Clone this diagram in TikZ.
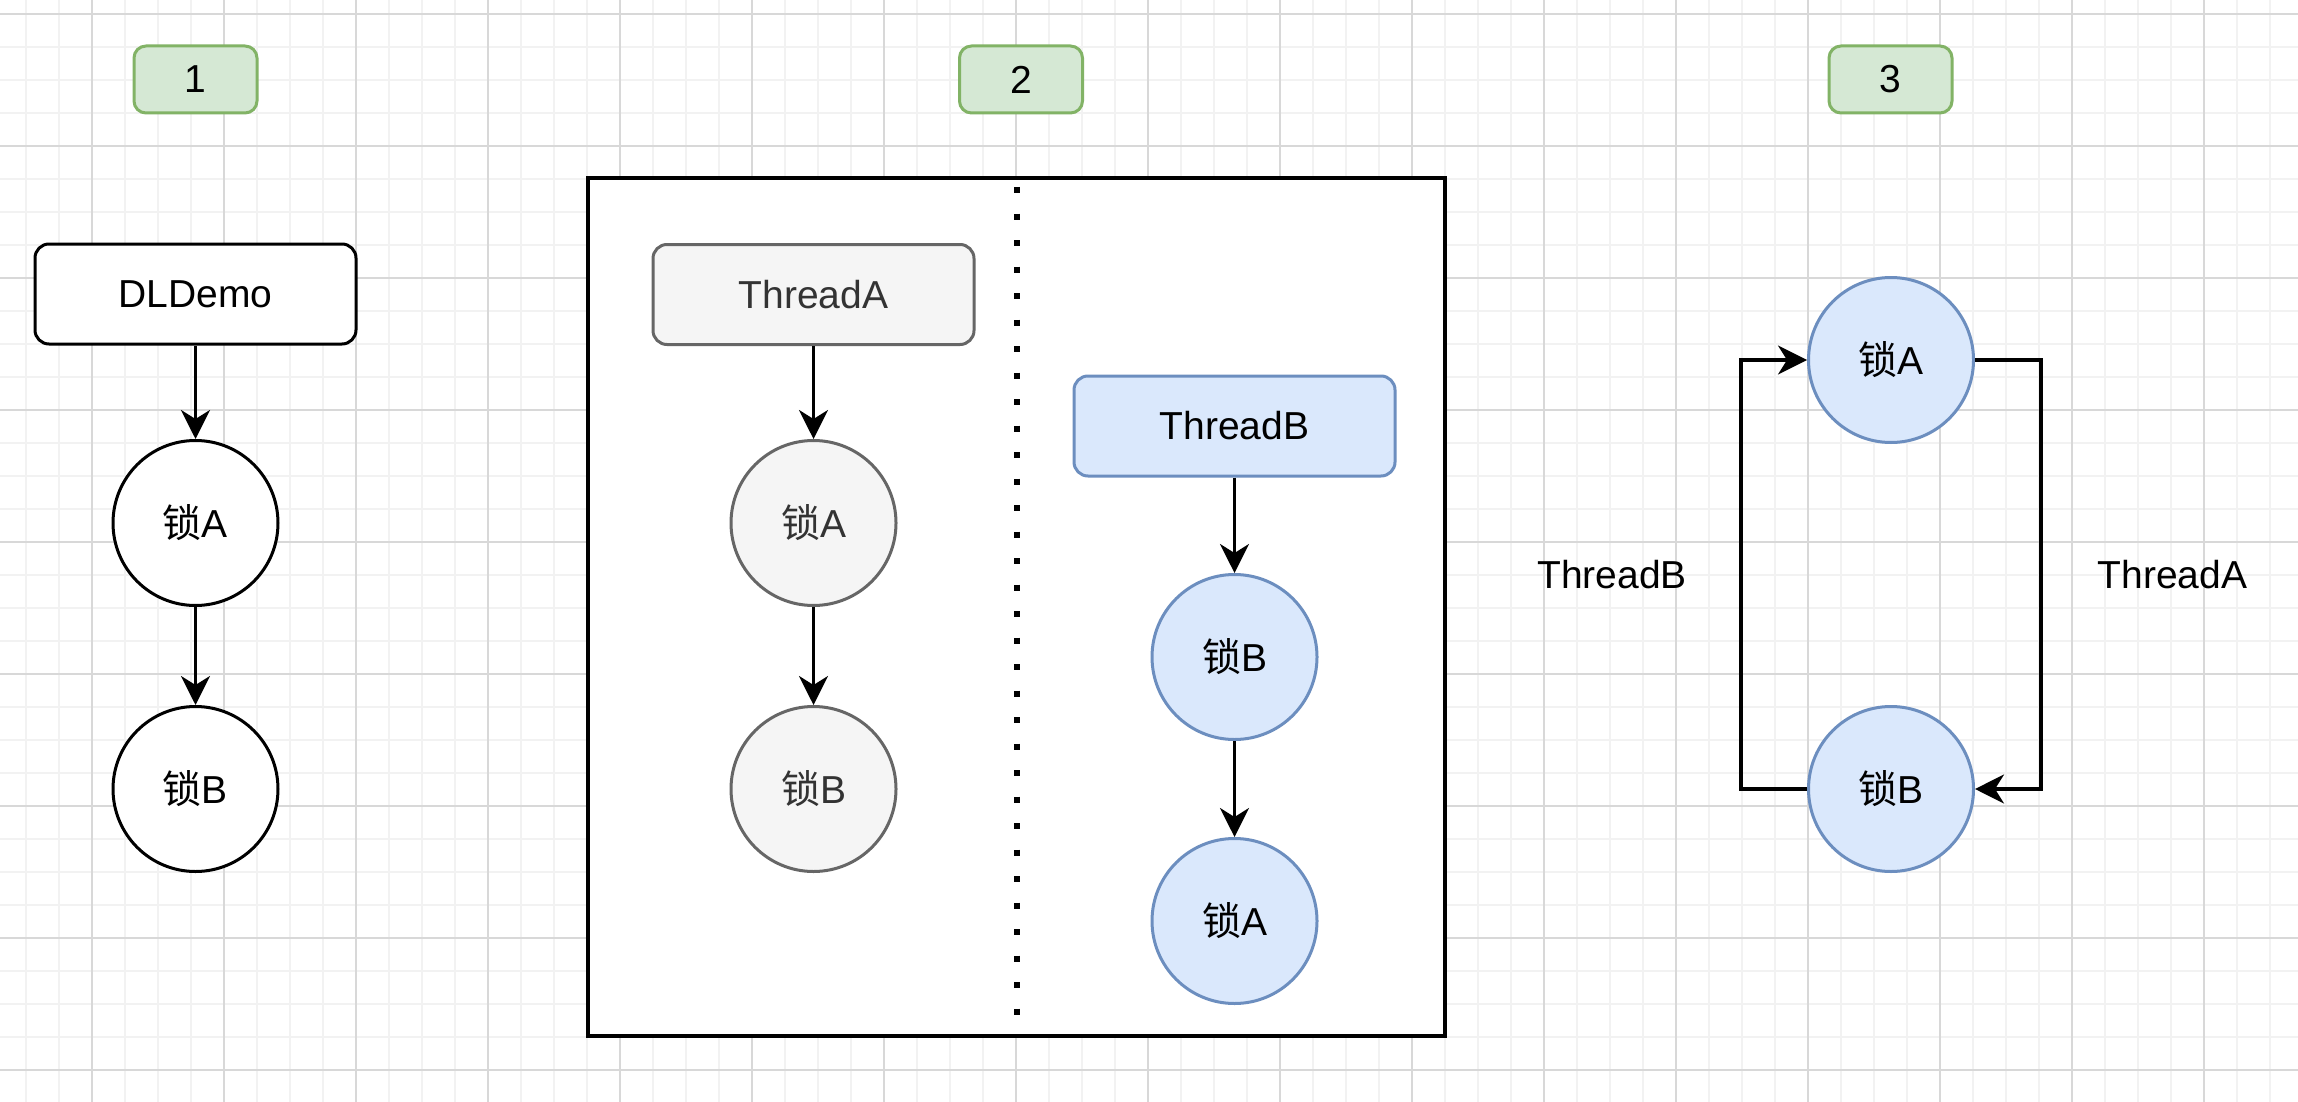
\documentclass[tikz,border=0pt]{standalone}
\usepackage{fontspec}
\setmainfont{Liberation Sans}
\newfontfamily\cjk{Noto Sans CJK SC}
\usetikzlibrary{arrows.meta}
\definecolor{tagfill}{HTML}{D5E8D4}
\definecolor{tagline}{HTML}{82B366}
\definecolor{grayfill}{HTML}{F5F5F5}
\definecolor{grayline}{HTML}{666666}
\definecolor{graytext}{HTML}{333333}
\definecolor{bluefill}{HTML}{DAE8FC}
\definecolor{blueline}{HTML}{6C8EBF}
\definecolor{minorc}{HTML}{F2F2F2}
\definecolor{majorc}{HTML}{D8D8D8}
\begin{document}
\begin{tikzpicture}[x=1pt,y=-1pt, font=\fontsize{39}{47}\selectfont,
  minorgrid/.style={draw=minorc, line width=2pt},
  majorgrid/.style={draw=majorc, line width=2pt},
  tag/.style={draw=tagline, fill=tagfill, rounded corners=12pt, line width=3pt, minimum width=123pt, minimum height=67pt, inner sep=0pt},
  plainbox/.style={draw=black, fill=white, rounded corners=14pt, line width=3pt, minimum width=321pt, minimum height=100pt, inner sep=0pt},
  greybox/.style={plainbox, draw=grayline, fill=grayfill, text=graytext},
  bluebox/.style={plainbox, draw=blueline, fill=bluefill},
  lockw/.style={circle, draw=black, fill=white, line width=3pt, minimum size=165pt, inner sep=0pt},
  lockg/.style={lockw, draw=grayline, fill=grayfill, text=graytext},
  lockb/.style={lockw, draw=blueline, fill=bluefill},
  conn/.style={draw=black, line width=3.2pt, -{Stealth[length=29pt,width=29pt,inset=9pt]}},
  frame/.style={draw=black, fill=white, line width=4pt, minimum width=857pt, minimum height=858pt, inner sep=0pt},
  dotline/.style={draw=black, line width=6pt, dash pattern=on 6pt off 20.5pt},
]
\useasboundingbox (0,0) rectangle (2298,1102);
\fill[white] (0,0) rectangle (2298,1102);
% grid
\foreach \x in {26,59,...,2298} \draw[minorgrid] (\x,0) -- (\x,1102);
\foreach \y in {14,47,...,1102} \draw[minorgrid] (0,\y) -- (2298,\y);
\foreach \x in {92,224,...,2298} \draw[majorgrid] (\x,0) -- (\x,1102);
\foreach \y in {14,146,...,1102} \draw[majorgrid] (0,\y) -- (2298,\y);

% tags
\node[tag] (t1) at (195.5,79.5) {1};
\node[tag] (t2) at (1021,79.5) {2};
\node[tag] (t3) at (1890.5,79.5) {3};

% column 1
\node[plainbox] (demo) at (195.5,294) {DLDemo};
\node[lockw] (a1) at (195.5,523) {{\cjk 锁}A};
\node[lockw] (b1) at (195.5,789) {{\cjk 锁}B};
\draw[conn] (demo) -- (a1);
\draw[conn] (a1) -- (b1);

% column 2 frame
\node[frame] (fr) at (1016.5,607) {};
\coordinate (dtop) at (1017,187);
\coordinate (dbot) at (1017,1036);
\draw[dotline] (dtop) -- (dbot);

\node[greybox] (ta) at (813.5,294.5) {ThreadA};
\node[lockg] (a2) at (813.5,523) {{\cjk 锁}A};
\node[lockg] (b2) at (813.5,789) {{\cjk 锁}B};
\draw[conn] (ta) -- (a2);
\draw[conn] (a2) -- (b2);

\node[bluebox] (tb) at (1234.5,426) {ThreadB};
\node[lockb] (b3) at (1234.5,657) {{\cjk 锁}B};
\node[lockb] (a3) at (1234.5,921) {{\cjk 锁}A};
\draw[conn] (tb) -- (b3);
\draw[conn] (b3) -- (a3);

% column 3
\node[lockb] (a4) at (1891,360) {{\cjk 锁}A};
\node[lockb] (b4) at (1891,789) {{\cjk 锁}B};
\draw[conn] (a4.east) -- ++(66,0) |- (b4.east);
\draw[conn] (b4.west) -- ++(-66,0) |- (a4.west);
\node (lb) at (1612,574.5) {ThreadB};
\node (la) at (2172.5,574.5) {ThreadA};
\end{tikzpicture}
\end{document}
